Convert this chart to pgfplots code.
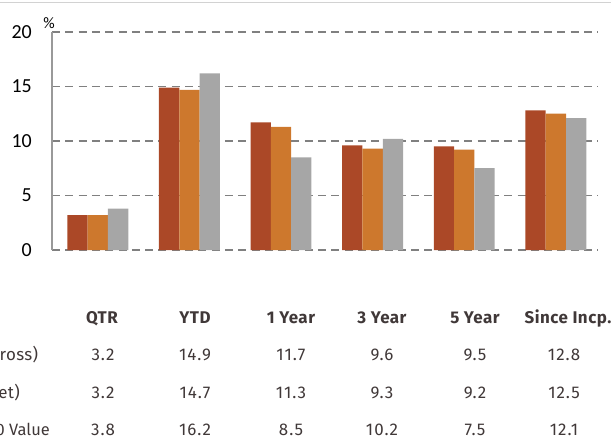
\documentclass[border=0pt]{standalone}
\usepackage{fontspec}
\setmainfont{Fira Sans}
\newfontfamily\tickfont{Carlito}
\newfontfamily\tabfont[LetterSpace=6]{Fira Sans}
\newfontfamily\headfont[LetterSpace=3]{Fira Sans}
\newfontfamily\rowfont[LetterSpace=2]{Fira Sans}
\usepackage{pgfplots}
\pgfplotsset{compat=1.18}
\definecolor{cGross}{RGB}{171,72,39}
\definecolor{cNet}{RGB}{205,120,45}
\definecolor{cBench}{RGB}{166,166,166}
\definecolor{gridc}{RGB}{128,128,128}
\definecolor{txt}{RGB}{64,56,56}
\begin{document}
\begin{tikzpicture}
\begin{axis}[
 at={(0,0)}, anchor=south west,
 scale only axis, width=546bp, height=218bp,
 xmin=-0.5, xmax=5.46, ymin=0, ymax=20,
 ybar=0pt, bar width=20.3bp,
 xtick=\empty, ytick={0,5,10,15,20},
 ymajorgrids, grid style={gridc, line width=1.6bp, dash pattern=on 8bp off 5.3bp},
 axis line style={draw=none},
 major tick length=0pt,
 /pgf/number format/assume math mode=true,
 yticklabel style={font=\tickfont\fontsize{20}{24}\selectfont, anchor=east, inner sep=0pt, xshift=-20bp},
 clip=false,
]
\addplot[fill=cGross, draw=none] coordinates {(0,3.2) (1,14.9) (2,11.7) (3,9.6) (4,9.5) (5,12.8)};
\addplot[fill=cNet, draw=none] coordinates {(0,3.2) (1,14.7) (2,11.3) (3,9.3) (4,9.2) (5,12.5)};
\addplot[fill=cBench, draw=none] coordinates {(0,3.8) (1,16.2) (2,8.5) (3,10.2) (4,7.5) (5,12.1)};
\draw[gray!80, line width=1.6bp] (rel axis cs:0,0) -- (rel axis cs:0,1);
\end{axis}
\draw[gray!35, line width=1.5bp] (-52bp,247.5bp) -- (559bp,247.5bp);
\node[font=\tickfont\fontsize{16}{18}\selectfont, inner sep=0pt] at (-3bp,227bp) {\%};
\begin{scope}[every node/.style={inner sep=0pt, text=txt, font=\tabfont\fontsize{17}{20}\selectfont, anchor=mid}]
\foreach \x/\t in {50/QTR,143/YTD,239/1 Year,330/3 Year,423/5 Year,516/Since Incp.}
  \node[font=\headfont\bfseries\fontsize{17}{20}\selectfont] at (\x bp,-71bp) {\t};
\foreach \x/\t in {51/3.2,143/14.9,239/11.7,330/9.6,423/9.5,512/12.8}
  \node at (\x bp,-107.5bp) {\t};
\foreach \x/\t in {51/3.2,143/14.7,239/11.3,330/9.3,423/9.2,512/12.5}
  \node at (\x bp,-146bp) {\t};
\foreach \x/\t in {51/3.8,143/16.2,239/8.5,330/10.2,423/7.5,512/12.1}
  \node at (\x bp,-183bp) {\t};
\node[anchor=mid east, font=\rowfont\fontsize{17}{20}\selectfont] at (-13.7bp,-107.5bp) {Portfolio (Gross)};
\node[anchor=mid east, font=\rowfont\fontsize{17}{20}\selectfont] at (-32bp,-146bp) {Portfolio (Net)};
\node[anchor=mid east, font=\fontsize{16.5}{20}\selectfont] at (-2bp,-183bp) {Russell 1000 Value};
\end{scope}
\pgfresetboundingbox
\useasboundingbox (-52bp,-189bp) rectangle (559bp,250bp);
\end{tikzpicture}
\end{document}
